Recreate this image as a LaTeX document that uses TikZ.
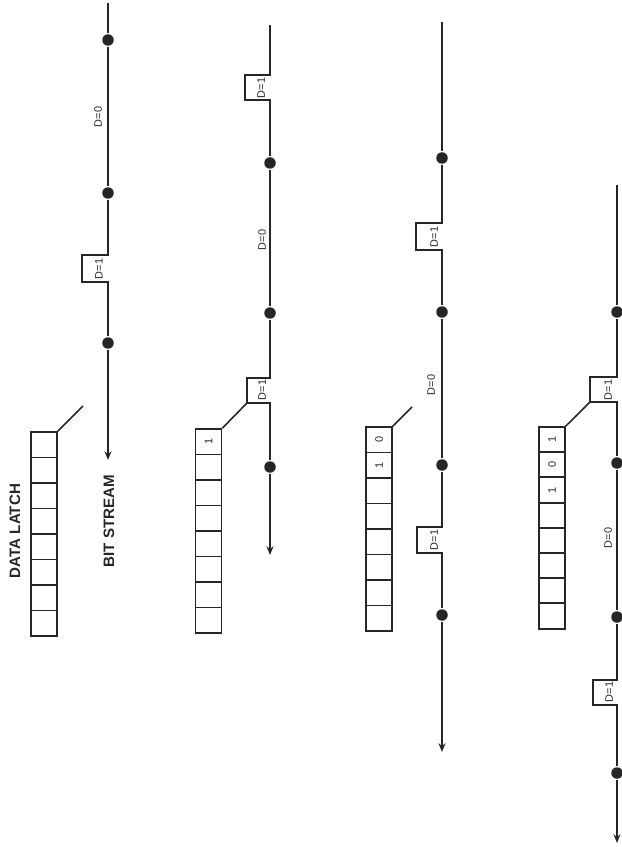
\documentclass[tikz,border=0pt]{standalone}
\usepackage{fontspec}
\setmainfont{Liberation Sans}
\usepackage{tikz}
\usetikzlibrary{arrows.meta}

\begin{document}
\begin{tikzpicture}[x=0.02cm, y=-0.02cm, line width=0.9pt, black!85,
    bitdot/.style={circle, fill=black!85, inner sep=0pt, minimum size=2.3mm},
    cell/.style={draw, rectangle, inner sep=0pt, minimum width=5.2mm, minimum height=5.1mm,
                 font=\fontsize{6.2}{7}\selectfont},
    dlabel/.style={rotate=90, font=\fontsize{6.2}{7}\selectfont, inner sep=0pt},
    heading/.style={rotate=90, font=\bfseries\fontsize{8.6}{9}\selectfont, inner sep=0pt},
    stream/.style={-{Stealth[length=5pt,width=4pt]}}]

    \useasboundingbox (0,0) rectangle (621,847);

    % Stage 1 (empty latch)
    \foreach \i in {1,...,8}
        \node[cell] (la\i) at (44,{432+25.5*(\i-0.5)}) {};
    \coordinate (sa0) at (108,3);
    \node[bitdot] (sa1) at (108,40) {};
    \node[bitdot] (sa2) at (108,193) {};
    \coordinate (pa1) at (108,255);
    \coordinate (pa2) at (82,282);
    \node[bitdot] (sa3) at (108,343) {};
    \coordinate (sa4) at (108,460);
    \draw[stream] (sa0) -- (sa1) -- (sa2) -- (pa1) -| (pa2) -- (pa2 -| pa1) -- (sa3) -- (sa4);
    \node[dlabel] (da1) at (98,117) {D=0};
    \node[dlabel] (da2) at (99,269) {D=1};
    \coordinate (ka) at (83,406);
    \draw (la1.north east) -- (ka);
    \node[heading] (latch) at (15,531) {DATA LATCH};
    \node[heading] (bits) at (109,521) {BIT STREAM};

    % Stage 2 (first bit latched)
    \foreach \b [count=\i] in {1,{},{},{},{},{},{},{}}
        \node[cell] (lb\i) at (208.5,{429+25.5*(\i-0.5)}) {\rotatebox{90}{\b}};
    \coordinate (sb0) at (270,25);
    \coordinate (pb1) at (270,75);
    \coordinate (pb2) at (245,100);
    \node[bitdot] (sb1) at (270,163) {};
    \node[bitdot] (sb2) at (270,313) {};
    \coordinate (pb3) at (270,378);
    \coordinate (pb4) at (247,403);
    \node[bitdot] (sb3) at (270,467) {};
    \coordinate (sb4) at (270,555);
    \draw[stream] (sb0) -- (pb1) -| (pb2) -- (pb2 -| pb1) -- (sb1) -- (sb2)
        -- (pb3) -| (pb4) -- (pb4 -| pb3) -- (sb3) -- (sb4);
    \node[dlabel] (db1) at (261,88) {D=1};
    \node[dlabel] (db2) at (262,240) {D=0};
    \node[dlabel] (db3) at (262,390) {D=1};
    \draw (lb1.north east) -- (pb4);

    % Stage 3 (two bits latched)
    \foreach \b [count=\i] in {0,1,{},{},{},{},{},{}}
        \node[cell] (lc\i) at (379,{427+25.5*(\i-0.5)}) {\rotatebox{90}{\b}};
    \coordinate (sc0) at (442,22);
    \node[bitdot] (sc1) at (442,158) {};
    \coordinate (pc1) at (442,223);
    \coordinate (pc2) at (416,250);
    \node[bitdot] (sc2) at (442,312) {};
    \node[bitdot] (sc3) at (442,465) {};
    \coordinate (pc3) at (442,527);
    \coordinate (pc4) at (417,553);
    \node[bitdot] (sc4) at (442,615) {};
    \coordinate (sc5) at (442,752);
    \draw[stream] (sc0) -- (sc1) -- (pc1) -| (pc2) -- (pc2 -| pc1) -- (sc2) -- (sc3)
        -- (pc3) -| (pc4) -- (pc4 -| pc3) -- (sc4) -- (sc5);
    \node[dlabel] (dc1) at (434,237) {D=1};
    \node[dlabel] (dc2) at (431,385) {D=0};
    \node[dlabel] (dc3) at (434,540) {D=1};
    \coordinate (kc) at (412,407);
    \draw (lc1.north east) -- (kc);

    % Stage 4 (three bits latched)
    \foreach \b [count=\i] in {1,0,1,{},{},{},{},{}}
        \node[cell] (ld\i) at (552,{427+25.2*(\i-0.5)}) {\rotatebox{90}{\b}};
    \coordinate (sd0) at (617,185);
    \node[bitdot] (sd1) at (617,312) {};
    \coordinate (pd1) at (617,377);
    \coordinate (pd2) at (590,402);
    \node[bitdot] (sd2) at (617,463) {};
    \node[bitdot] (sd3) at (617,617) {};
    \coordinate (pd3) at (617,680);
    \coordinate (pd4) at (593,705);
    \node[bitdot] (sd4) at (617,773) {};
    \coordinate (sd5) at (617,843);
    \draw[stream] (sd0) -- (sd1) -- (pd1) -| (pd2) -- (pd2 -| pd1) -- (sd2) -- (sd3)
        -- (pd3) -| (pd4) -- (pd4 -| pd3) -- (sd4) -- (sd5);
    \node[dlabel] (dd1) at (608,390) {D=1};
    \node[dlabel] (dd2) at (608,538) {D=0};
    \node[dlabel] (dd3) at (609,692) {D=1};
    \draw (ld1.north east) -- (pd2);
\end{tikzpicture}
\end{document}
